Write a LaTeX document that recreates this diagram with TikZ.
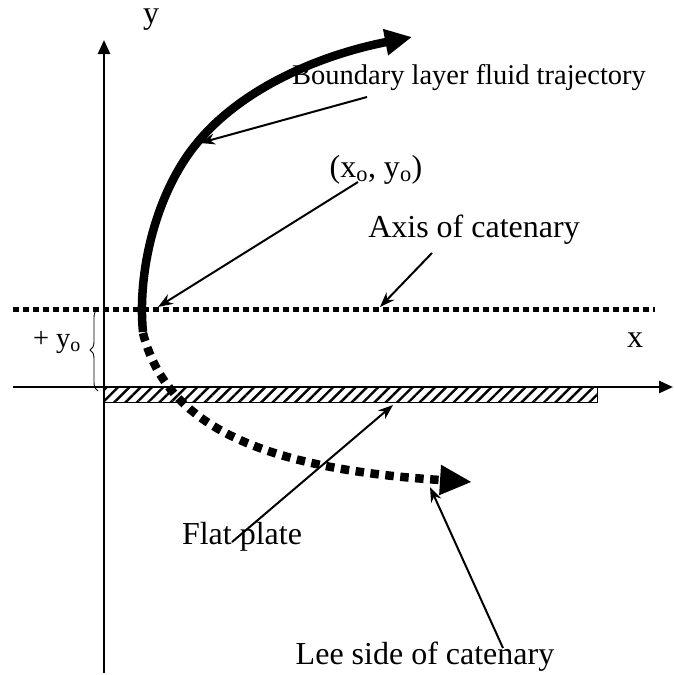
\documentclass[tikz,border=0pt]{standalone}
\usepackage{fontspec}
\setmainfont{Liberation Serif}
\usetikzlibrary{arrows.meta,patterns.meta,decorations.pathreplacing}
\begin{document}
\begin{tikzpicture}[x=1pt,y=-1pt,
  lbl/.style={inner sep=0pt,font=\fontsize{32}{36}\selectfont},
  lblsmall/.style={inner sep=0pt,font=\fontsize{28.5}{32}\selectfont},
  axisline/.style={line width=2.5pt,-{Triangle[length=14pt,width=12pt]}},
  pointer/.style={line width=2pt,-{Stealth[length=15pt,width=11pt]}},
  catline/.style={line width=5pt,dash pattern=on 5.5pt off 4.5pt},
  thickpath/.style={line width=8.5pt,-{Triangle[length=27pt,width=25pt]}},
  dotpath/.style={line width=8.5pt,dash pattern=on 8.5pt off 6.5pt,-{Triangle[length=32pt,width=28pt]}},
  plate/.style={line width=1pt,pattern={Lines[angle=45,distance=8pt,line width=2.4pt]}}
]
\useasboundingbox (0,0) rectangle (673,675);

% axes
\coordinate (ybot) at (104,673);
\coordinate (ytop) at (104,40);
\coordinate (xleft) at (13,387);
\coordinate (xright) at (673,387);
\draw[axisline] (ybot) -- (ytop);
\draw[axisline] (xleft) -- (xright);

% flat plate
\draw[plate] (104,387) rectangle (597,402);

% axis of catenary
\coordinate (cleft) at (13,309);
\coordinate (cright) at (655,309);
\draw[catline] (cleft) -- (cright);

% brace
\coordinate (bbot) at (98,391);
\coordinate (btop) at (98,309);
\draw[line width=0.9pt,decorate,decoration={brace,amplitude=8pt}] (bbot) -- (btop);

% boundary layer trajectory
\coordinate (ts) at (143,332);
\coordinate (tm) at (197,143);
\coordinate (te) at (412,37);
\draw[thickpath] (ts) .. controls (137,270) and (157,191) .. (tm)
  .. controls (242,88) and (320,55) .. (te);

% lee side of catenary
\coordinate (ds) at (143,333);
\coordinate (de) at (472,482);
\draw[dotpath] (ds) .. controls (165,420) and (250,468) .. (de);

% labels
\node[lbl] (ylab) at (151,20) {y};
\node[lbl] (xlab) at (635,340) {x};
\node[lblsmall] (yo) at (57,343) {+ y\textsubscript{o}};
\node[lblsmall] (blab) at (469,78) {Boundary layer fluid trajectory};
\node[lbl] (xy) at (376,170) {(x\textsubscript{o}, y\textsubscript{o})};
\node[lbl] (axis) at (474,230) {Axis of catenary};
\node[lbl] (flat) at (242,537) {Flat plate};
\node[lbl] (lee) at (425,657) {Lee side of catenary};

% pointers
\coordinate (p1s) at (367,97);   \coordinate (p1e) at (200,143);
\coordinate (p2s) at (358,182);  \coordinate (p2e) at (158,307);
\coordinate (p3s) at (432,253);  \coordinate (p3e) at (380,307);
\coordinate (p4s) at (232,542);  \coordinate (p4e) at (393,405);
\coordinate (p5s) at (503,648);  \coordinate (p5e) at (430,487);
\draw[pointer] (p1s) -- (p1e);
\draw[pointer] (p2s) -- (p2e);
\draw[pointer] (p3s) -- (p3e);
\draw[pointer] (p4s) -- (p4e);
\draw[pointer] (p5s) -- (p5e);
\end{tikzpicture}
\end{document}
